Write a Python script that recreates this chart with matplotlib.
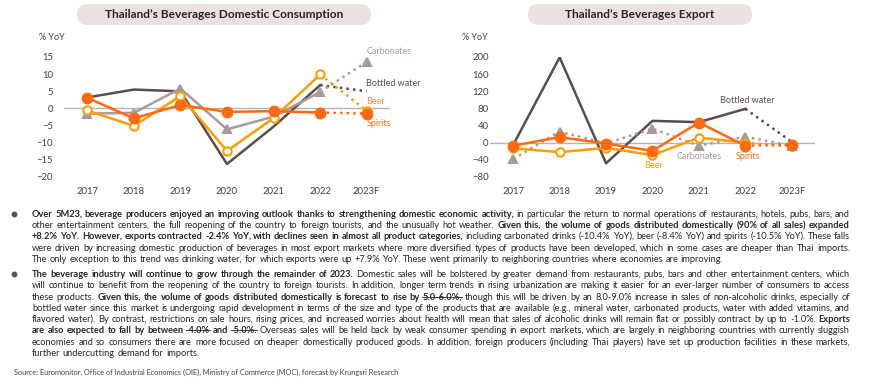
import matplotlib
matplotlib.use("Agg")
import matplotlib.pyplot as plt
import matplotlib.patches as mpatches

FONT = ["Lato", "DejaVu Sans"]
plt.rcParams["font.family"] = FONT

years = ["2017", "2018", "2019", "2020", "2021", "2022", "2023F"]

# domestic consumption, % YoY
dom_water = [3.2, 5.5, 5.0, -16.2, -5.3, 6.8, 5.0]
dom_carb = [-1.5, -1.3, 5.8, -6.1, -2.4, 4.8, 13.6]
dom_beer = [-0.6, -5.1, 3.6, -12.4, -2.8, 9.9, -0.7]
dom_spirits = [3.1, -2.9, 1.0, -1.0, -0.8, -1.2, -1.5]

# export, % YoY
exp_water = [-5, 199, -48, 51, 48, 79, 2]
exp_carb = [-38, 26, -2, 33, -7, 14, -7]
exp_beer = [-13, -22, -12, -29, 12, 0, -8]
exp_spirits = [-7, 13, -2, -19, 47, -7, -5]

C_WATER = "#5a4d4d"
C_CARB = "#a89b99"
C_BEER = "#ff9c00"
C_SPIR = "#ff6a10"
C_TXT = "#262626"

fig = plt.figure(figsize=(8.7, 3.86), dpi=100)
W, H = 870, 386


def px_axes(x0, x1, ytop, ybot):
    return fig.add_axes([x0 / W, (H - ybot) / H, (x1 - x0) / W, (ybot - ytop) / H])


def series(ax, vals, color, marker=None, mfc=None, dotted_all=False, ms=6):
    x = list(range(len(vals)))
    ls = ":" if dotted_all else "-"
    ax.plot(x[:6], vals[:6], ls=ls, color=color, lw=1.8, zorder=3)
    ax.plot(x[5:], vals[5:], ls=":", color=color, lw=1.8, zorder=3)
    if marker:
        ax.plot(x, vals, ls="none", marker=marker, ms=ms, color=color,
                mfc=mfc if mfc else color, mec=color, mew=1.5, zorder=4)


def style(ax, yl, yt, pad):
    ax.set_xlim(-0.5, 6.5)
    ax.set_ylim(*yl)
    ax.set_yticks(yt)
    ax.set_xticks(range(7))
    ax.set_xticklabels(years)
    for s in ax.spines.values():
        s.set_visible(False)
    ax.tick_params(length=0, labelsize=6.8, labelcolor="#404040")
    ax.tick_params(axis="y", pad=pad)
    ax.tick_params(axis="x", pad=7)
    ax.axhline(0, color="#b4b4b4", lw=1, zorder=1)
    ax.patch.set_alpha(0)


# left chart
ax1 = px_axes(64, 390, 57, 177)
style(ax1, (-20, 15), range(-20, 16, 5), 8)
series(ax1, dom_water, C_WATER)
series(ax1, dom_carb, C_CARB, marker="^")
series(ax1, dom_beer, C_BEER, marker="o", mfc="white")
series(ax1, dom_spirits, C_SPIR, marker="o", ms=7)
lab = dict(fontsize=6.5, ha="left", va="center", clip_on=False)
ax1.text(5.99, 16.7, "Carbonates", color=C_CARB, **lab)
ax1.text(5.99, 7.4, "Bottled water", color=C_WATER, **lab)
ax1.text(5.99, 2.1, "Beer", color=C_BEER, **lab)
ax1.text(5.99, -4.3, "Spirits", color=C_SPIR, **lab)

# right chart
ax2 = px_axes(490, 815, 57, 177)
style(ax2, (-80, 200), range(-80, 201, 40), 1)
series(ax2, exp_water, C_WATER)
series(ax2, exp_carb, C_CARB, marker="^", dotted_all=True)
series(ax2, exp_beer, C_BEER, marker="o", mfc="white")
series(ax2, exp_spirits, C_SPIR, marker="o", ms=7)
lab["ha"] = "center"
ax2.text(5.04, 98, "Bottled water", color=C_WATER, **lab)
ax2.text(4.0, -33, "Carbonates", color=C_CARB, **lab)
ax2.text(3.02, -54, "Beer", color=C_BEER, **lab)
ax2.text(5.05, -33, "Spirits", color=C_SPIR, **lab)

# overlay in pixel coordinates
ov = fig.add_axes([0, 0, 1, 1])
ov.set_xlim(0, W)
ov.set_ylim(H, 0)
ov.axis("off")
ov.patch.set_alpha(0)

for x0, x1, title in [(77, 371, "Thailand\u2019s Beverages Domestic Consumption"),
                      (528, 752, "Thailand\u2019s Beverages Export")]:
    ov.add_patch(mpatches.FancyBboxPatch((x0, 4), x1 - x0, 21,
                 boxstyle="round,pad=0,rounding_size=10.5",
                 fc="#ebe1df", ec="none"))
    ov.text((x0 + x1) / 2, 15, title, ha="center", va="center",
            fontsize=8.6, fontweight="bold", color=C_TXT)

ov.text(39, 38, "% YoY", fontsize=6.5, color="#404040", va="center")
ov.text(462, 38, "% YoY", fontsize=6.5, color="#404040", va="center")

# body text, line by line: (text, bold)
para1 = [
    [("Over 5M23, beverage producers enjoyed an improving outlook thanks to strengthening domestic economic activity,", 1),
     ("in particular the return to normal operations of restaurants, hotels, pubs, bars, and", 0)],
    [("other entertainment centers, the full reopening of the country to foreign tourists, and the unusually hot weather.", 0),
     ("Given this, the volume of goods distributed domestically (90% of all sales) expanded", 1)],
    [("+8.2% YoY. However, exports contracted -2.4% YoY, with declines seen in almost all product categories,", 1),
     ("including carbonated drinks (-10.4% YoY), beer (-8.4% YoY) and spirits (-10.5% YoY). These falls", 0)],
    [("were driven by increasing domestic production of beverages in most export markets where more diversified types of products have been developed, which in some cases are cheaper than Thai imports.", 0)],
    [("The only exception to this trend was drinking water, for which exports were up +7.9% YoY. These went primarily to neighboring countries where economies are improving.", 0)],
]
para2 = [
    [("The beverage industry will continue to grow through the remainder of 2023.", 1),
     ("Domestic sales will be bolstered by greater demand from restaurants, pubs, bars and other entertainment centers, which", 0)],
    [("will continue to benefit from the reopening of the country to foreign tourists. In addition, longer term trends in rising urbanization are making it easier for an ever-larger number of consumers to access", 0)],
    [("these products.", 0),
     ("Given this, the volume of goods distributed domestically is forecast to rise by 5.0-6.0%,", 1),
     ("though this will be driven by an 8.0-9.0% increase in sales of non-alcoholic drinks, especially of", 0)],
    [("bottled water since this market is undergoing rapid development in terms of the size and type of the products that are available (e.g., mineral water, carbonated products, water with added vitamins, and", 0)],
    [("flavored water). By contrast, restrictions on sale hours, rising prices, and increased worries about health will mean that sales of alcoholic drinks will remain flat or possibly contract by up to -1.0%.", 0),
     ("Exports", 1)],
    [("are also expected to fall by between -4.0% and -5.0%.", 1),
     ("Overseas sales will be held back by weak consumer spending in export markets, which are largely in neighboring countries with currently sluggish", 0)],
    [("economies and so consumers there are more focused on cheaper domestically produced goods. In addition, foreign producers (including Thai players) have set up production facilities in these markets,", 0)],
    [("further undercutting demand for imports.", 0)],
]
struck = {"5.0-6.0%,", "-4.0%", "-5.0%."}

fig.canvas.draw()
rend = fig.canvas.get_renderer()


def tw(s, bold, fs):
    t = ov.text(0, 0, s, fontsize=fs, fontweight="bold" if bold else "normal")
    w = t.get_window_extent(rend).width
    t.remove()
    return w


def words_of(line):
    out = []
    for seg, b in line:
        out += [(w, b) for w in seg.split()]
    return out


X0, X1 = 32, 850
fs = 6.7
space = tw("a a", 0, fs) - tw("aa", 0, fs)
# shrink so that the longest justified line fits with normal spacing
longest = 0
for para in (para1, para2):
    for line in para[:-1]:
        ws = words_of(line)
        nat = sum(tw(w, b, fs) for w, b in ws) + (len(ws) - 1) * space
        longest = max(longest, nat)
if longest > (X1 - X0):
    fs = fs * (X1 - X0) / longest * 0.995
space = tw("a a", 0, fs) - tw("aa", 0, fs)


def draw_para(para, y0, step):
    for i, line in enumerate(para):
        # whole-pixel baseline so every word lands on the same row
        yb = round(y0 + i * step) + 3
        ws = words_of(line)
        widths = [tw(w, b, fs) for w, b in ws]
        if i < len(para) - 1 and len(ws) > 1:
            gap = (X1 - X0 - sum(widths)) / (len(ws) - 1)
        else:
            gap = space
        x = X0
        for (w, b), wd in zip(ws, widths):
            ov.text(x, yb, w, fontsize=fs, fontweight="bold" if b else "normal",
                    color=C_TXT, va="baseline", ha="left")
            if w in struck:
                ov.plot([x, x + wd], [yb - 2.7, yb - 2.7], color=C_TXT, lw=0.6)
            x += wd + gap
    ov.plot([14], [y0], marker="o", ms=3.2, color="#555555")


draw_para(para1, 214, 11.2)
draw_para(para2, 274, 11.3)

ov.text(14, 372, "Source: Euromonitor, Office of Industrial Economics (OIE), Ministry of Commerce (MOC), forecast by Krungsri Research",
        fontsize=5.3, color="#404040", va="center")

fig.savefig("out.png", dpi=100)
